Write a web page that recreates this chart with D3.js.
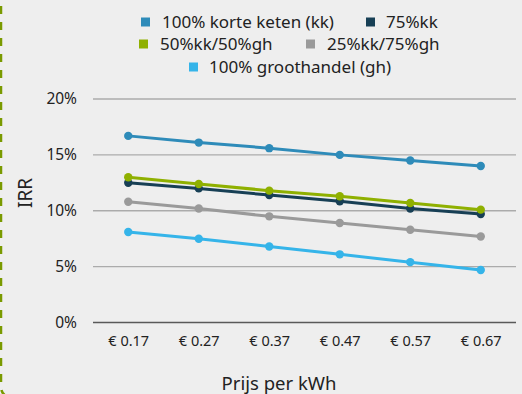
<!DOCTYPE html>
<html><head><meta charset="utf-8">
<script src="https://cdn.jsdelivr.net/npm/d3@7"></script>
<style>
html,body{margin:0;padding:0;background:#eeeeee;}
svg{display:block;font-family:"Noto Sans",sans-serif;}
</style></head><body>
<svg id="c" width="522" height="394"></svg>
<script>
const categories = ["€ 0.17","€ 0.27","€ 0.37","€ 0.47","€ 0.57","€ 0.67"];
const seriesNames = ["100% korte keten (kk)","75%kk","50%kk/50%gh","25%kk/75%gh","100% groothandel (gh)"];
const kk100 = [16.7,16.1,15.6,15.0,14.5,14.0];
const kk75 = [12.5,12.0,11.4,10.85,10.2,9.7];
const kk50 = [13.0,12.4,11.8,11.3,10.7,10.1];
const kk25 = [10.8,10.2,9.5,8.9,8.3,7.7];
const gh100 = [8.1,7.5,6.8,6.1,5.4,4.7];
const yTicks = [0,5,10,15,20];
const colors = ["#2e8bb9","#173f55","#8fb000","#9a9a9a","#35b4e9"];

const svg = d3.select("#c");
svg.append("rect").attr("width",522).attr("height",394).attr("fill","#eeeeee");
// dashed border at left
svg.append("path").attr("d","M1,-10 L1,386 Q1,397 12,397 L600,397")
  .attr("fill","none").attr("stroke","#7a9a00").attr("stroke-width",2.5)
  .attr("stroke-dasharray","8,8");

const x = d3.scalePoint().domain(categories).range([93,516]).padding(0.5);
const y = d3.scaleLinear().domain([0,20]).range([322.5,99]);

// gridlines
svg.append("g").selectAll("line").data(yTicks.filter(t=>t>0)).join("line")
  .attr("x1",93).attr("x2",516).attr("y1",d=>y(d)).attr("y2",d=>y(d))
  .attr("stroke","#ababab").attr("stroke-width",1.3);
svg.append("line").attr("x1",93).attr("x2",516).attr("y1",y(0)).attr("y2",y(0))
  .attr("stroke","#595959").attr("stroke-width",1.5);

const yAxis = svg.append("g").attr("transform","translate(93,0)")
  .call(d3.axisLeft(y).tickValues(yTicks).tickFormat(d=>d+"%").tickSize(0).tickPadding(16));
yAxis.select(".domain").remove();
yAxis.selectAll("text").attr("font-size",15.5).attr("fill","#222").attr("font-family","Noto Sans");

const xAxis = svg.append("g").attr("transform","translate(0,"+y(0)+")")
  .call(d3.axisBottom(x).tickSize(0).tickPadding(13));
xAxis.select(".domain").remove();
xAxis.selectAll("text").attr("font-size",14.5).attr("fill","#222").attr("font-family","Noto Sans");

svg.append("text").attr("x",279).attr("y",390).attr("text-anchor","middle")
  .attr("font-size",18.5).attr("fill","#222").text("Prijs per kWh");
svg.append("text").attr("transform","translate(32,193) rotate(-90)").attr("text-anchor","middle")
  .attr("font-size",19).attr("fill","#222").text("IRR");

const data = [kk100,kk75,kk50,kk25,gh100];
const order = [3,4,1,2,0];
const line = d3.line().x((d,i)=>x(categories[i])).y(d=>y(d));
order.forEach(k=>{
  const g = svg.append("g");
  g.append("path").datum(data[k]).attr("d",line).attr("fill","none")
    .attr("stroke",colors[k]).attr("stroke-width",3);
  g.selectAll("circle").data(data[k]).join("circle")
    .attr("cx",(d,i)=>x(categories[i])).attr("cy",d=>y(d)).attr("r",4.2).attr("fill",colors[k]);
});

// legend
const legend = [
  {i:0,mx:141,tx:162,cy:22},
  {i:1,mx:366,tx:386,cy:22},
  {i:2,mx:139,tx:160,cy:44},
  {i:3,mx:306,tx:327,cy:44},
  {i:4,mx:189,tx:209,cy:67}
];
const lg = svg.append("g");
legend.forEach(l=>{
  lg.append("rect").attr("x",l.mx).attr("y",l.cy-4.5).attr("width",9).attr("height",9).attr("fill",colors[l.i]);
  lg.append("text").attr("x",l.tx).attr("y",l.cy).attr("dy","0.35em")
    .attr("font-size",17).attr("fill","#222").text(seriesNames[l.i]);
});
</script>
</body></html>
